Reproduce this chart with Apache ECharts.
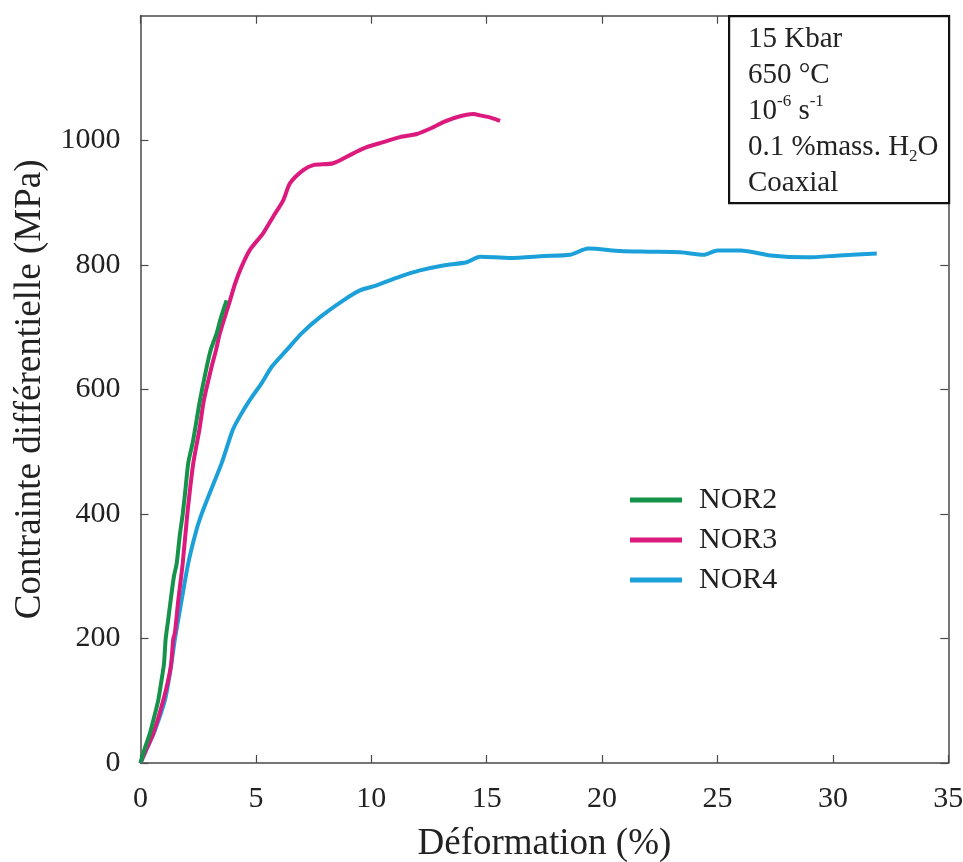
<!DOCTYPE html>
<html>
<head>
<meta charset="utf-8">
<script src="https://cdn.jsdelivr.net/npm/echarts@6/dist/echarts.min.js"></script>
<style>html,body{margin:0;padding:0;background:#fff}#c{width:963px;height:862px}</style>
</head>
<body>
<div id="c"></div>
<script>
// Data (strain %, differential stress MPa)
const seriesNames = ['NOR2', 'NOR3', 'NOR4'];
const nor2 = [[0,0],[0.2,25],[0.41,48],[0.6,75],[0.77,101],[0.92,135],[1.02,160],[1.09,199],[1.2,230],[1.31,262],[1.45,300],[1.57,321],[1.7,365],[1.83,400],[1.95,440],[2.07,482],[2.26,514],[2.36,535],[2.58,583],[2.87,636],[3.04,663],[3.3,690],[3.49,716],[3.73,743]];
const nor3 = [[0,0],[0.25,22],[0.56,48],[0.99,101],[1.31,154],[1.42,199],[1.49,209],[1.64,262],[1.83,321],[2.03,400],[2.29,482],[2.55,535],[2.75,583],[3.08,636],[3.27,663],[3.44,690],[3.88,743],[4.1,770],[4.38,797],[4.74,824],[5.32,851],[5.76,878],[6.19,904],[6.48,931],[7.05,952],[7.49,960],[8.35,963],[9.22,979],[9.8,989],[10.52,997],[11.24,1005],[11.97,1010],[12.69,1021],[13.12,1029],[13.7,1037],[14.42,1042],[14.71,1040],[15.2,1036],[15.58,1031]];
const nor4 = [[0,0],[0.3,25],[0.6,50],[1.06,101],[1.3,150],[1.49,199],[1.71,246],[2.07,321],[2.43,375],[2.65,400],[2.94,428],[3.52,482],[4.0,535],[4.31,557],[4.74,583],[5.25,610],[5.68,636],[6.33,663],[6.98,690],[7.78,716],[8.79,743],[9.51,759],[10.23,767],[11.24,781],[12.11,791],[13.12,799],[14.13,804],[14.71,813],[16.0,811],[17.5,814],[18.6,816],[19.4,826],[20.8,822],[22.0,821],[23.4,820],[24.4,816],[25.0,823],[26.0,823],[27.3,815],[28.9,812],[30.3,815],[31.9,818]];
const xTicks = [0,5,10,15,20,25,30,35];
const yTicks = [0,200,400,600,800,1000,1200];
const colors = ['#16934a', '#dc1a7e', '#1ca0d9'];
const annotation = ['15 Kbar', '650 °C', '10{sup|-6} s{sup|-1}', '0.1 %mass. H{sub|2}O', 'Coaxial'];

const FONT = 'Liberation Serif';
const axisCol = '#4a4a4a';
const chart = echarts.init(document.getElementById('c'));
const baseAxis = {
  axisLine: {show: true, onZero: false, lineStyle: {color: axisCol, width: 1.5}},
  axisTick: {show: true, inside: true, length: 8, lineStyle: {color: axisCol, width: 1.2}},
  splitLine: {show: false}
};
chart.setOption({
  animation: false,
  backgroundColor: '#fff',
  grid: {left: 140.5, top: 15.7, right: 14.7, bottom: 99, containLabel: false, outerBoundsMode: 'none'},
  xAxis: [
    Object.assign({}, baseAxis, {
      type: 'value', min: xTicks[0], max: xTicks[xTicks.length-1], interval: 5,
      position: 'bottom',
      name: 'Déformation (%)', nameLocation: 'middle', nameGap: 63,
      nameTextStyle: {fontFamily: FONT, fontSize: 37, color: '#222'},
      axisLabel: {fontFamily: FONT, fontSize: 30, color: '#222', margin: 21, formatter: v => String(v)}
    }),
    Object.assign({}, baseAxis, {
      type: 'value', min: xTicks[0], max: xTicks[xTicks.length-1], interval: 5,
      position: 'top', axisLabel: {show: false}
    })
  ],
  yAxis: [
    Object.assign({}, baseAxis, {
      type: 'value', min: yTicks[0], max: yTicks[yTicks.length-1], interval: 200,
      position: 'left',
      name: 'Contrainte différentielle (MPa)', nameLocation: 'middle', nameGap: 92,
      nameTextStyle: {fontFamily: FONT, fontSize: 37, color: '#222'},
      axisLabel: {fontFamily: FONT, fontSize: 30, color: '#222', margin: 20, showMaxLabel: false, formatter: v => String(v)}
    }),
    Object.assign({}, baseAxis, {
      type: 'value', min: yTicks[0], max: yTicks[yTicks.length-1], interval: 200,
      position: 'right', axisLabel: {show: false}
    })
  ],
  legend: {
    orient: 'vertical', left: 625, top: 480, itemWidth: 52, itemHeight: 5, itemGap: 10,
    icon: 'rect',
    textStyle: {fontFamily: FONT, fontSize: 30, color: '#222', padding: [0,0,0,12], lineHeight: 30},
    data: seriesNames
  },
  series: [nor2, nor3, nor4].map((d, i) => ({
    name: seriesNames[i], type: 'line', data: d, showSymbol: false, symbol: 'none',
    xAxisIndex: 0, yAxisIndex: 0, smooth: 0.25,
    lineStyle: {color: colors[i], width: 4}, itemStyle: {color: colors[i]},
    z: 3 - i
  })),
  graphic: [
    {type: 'rect', left: 728, top: 15, shape: {width: 220, height: 187},
      style: {fill: '#fff', stroke: '#111', lineWidth: 2.2}, z: 10},
    {type: 'text', left: 748, top: 21, z: 11,
      style: {text: annotation.join('\n'), fontFamily: FONT, fontSize: 29, fill: '#222', lineHeight: 36,
        rich: {
          sup: {fontFamily: FONT, fontSize: 17, fill: '#222', verticalAlign: 'top', lineHeight: 36, padding: [0,0,10,0]},
          sub: {fontFamily: FONT, fontSize: 17, fill: '#222', verticalAlign: 'bottom', lineHeight: 36, padding: [12,0,0,0]}
        }}}
  ]
});
</script>
</body>
</html>
